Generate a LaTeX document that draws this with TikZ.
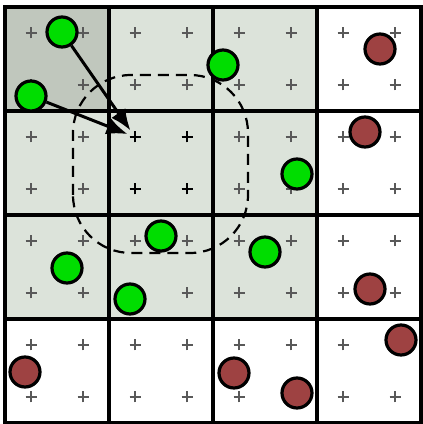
\documentclass[tikz,border=0pt]{standalone}
\usetikzlibrary{arrows.meta}
\definecolor{cellgray}{RGB}{220,227,218}
\definecolor{cornergray}{RGB}{192,199,189}
\definecolor{dotgreen}{RGB}{0,221,0}
\definecolor{dotred}{RGB}{158,66,66}
\tikzset{
	gdot/.style={circle,draw=black,line width=3.2pt,fill=dotgreen,minimum size=30pt,inner sep=0pt},
	rdot/.style={gdot,fill=dotred},
	crossmark/.style={black!65,line width=1.5pt},
	boldcross/.style={black,line width=2.1pt},
	gridline/.style={black,line width=3.8pt},
	pointer/.style={line width=3pt,-{Latex[length=21pt,width=17pt]},shorten >=8pt},
}
\begin{document}
\begin{tikzpicture}
				\useasboundingbox (0,0) rectangle (423pt,424pt);
				\fill[white] (0,0) rectangle (423pt,424pt);
				\fill[cellgray] (5pt,105pt) rectangle (317pt,417pt);
				\fill[cornergray] (5pt,313pt) rectangle (109pt,417pt);
				\foreach \i in {0,...,3} \foreach \j in {0,...,3} \foreach \u in {26,78} \foreach \v in {26,78}
					\draw[crossmark] (5pt+104pt*\i+\u pt,417pt-104pt*\j-\v pt) ++(-5.5pt,0) -- ++(11pt,0) ++(-5.5pt,-5.5pt) -- ++(0,11pt);
				\foreach \u in {26,78} \foreach \v in {26,78}
					\draw[boldcross] (109pt+\u pt,313pt-\v pt) ++(-5.5pt,0) -- ++(11pt,0) ++(-5.5pt,-5.5pt) -- ++(0,11pt);
				\coordinate (T11) at (135pt,287pt);
				\foreach \k in {1,2,3} {
					\draw[gridline] (5pt+104pt*\k,1pt)--(5pt+104pt*\k,417pt);
					\draw[gridline] (5pt,1pt+104pt*\k)--(421pt,1pt+104pt*\k);
				}
				\draw[gridline] (5pt,1pt) rectangle (421pt,417pt);
				\node[gdot] (G1) at (62pt,392pt) {};
				\node[gdot] (G2) at (31pt,328pt) {};
				\node[gdot] (G3) at (223pt,359pt) {};
				\node[gdot] (G4) at (297pt,250pt) {};
				\node[gdot] (G5) at (67pt,156pt) {};
				\node[gdot] (G6) at (161pt,188pt) {};
				\node[gdot] (G7) at (130pt,125pt) {};
				\node[gdot] (G8) at (265pt,172pt) {};
				\node[rdot] (R1) at (380pt,375pt) {};
				\node[rdot] (R2) at (365pt,292pt) {};
				\node[rdot] (R3) at (370pt,135pt) {};
				\node[rdot] (R4) at (401pt,84pt) {};
				\node[rdot] (R5) at (234pt,51pt) {};
				\node[rdot] (R6) at (297pt,31pt) {};
				\node[rdot] (R7) at (25pt,52pt) {};
				\draw[line width=2.2pt,dash pattern=on 11pt off 7pt,rounded corners=58pt] (73pt,171pt) rectangle (248pt,349pt);
				\draw[pointer] (G1)--(T11);
				\draw[pointer] (G2)--(T11);
			\end{tikzpicture}
\end{document}
